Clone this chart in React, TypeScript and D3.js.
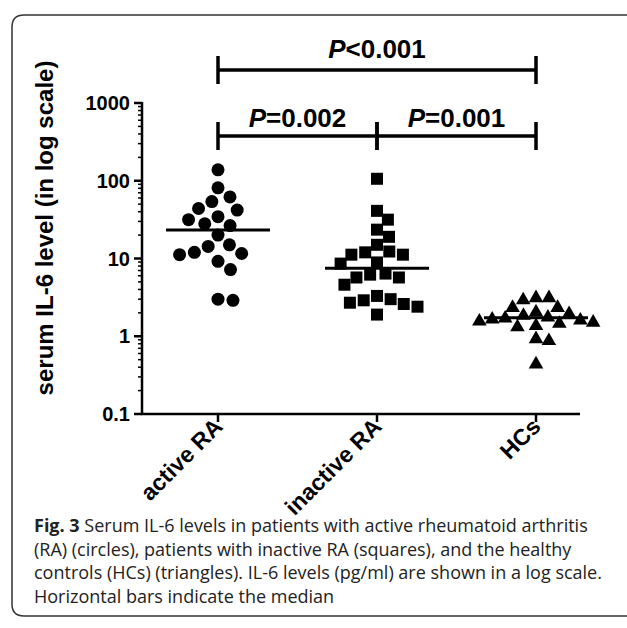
import React, { useRef, useEffect } from "react";
import * as d3 from "d3";

const width = 627;
const height = 628;

// groups on the x axis
const groups = ["active RA", "inactive RA", "HCs"];

// serum IL-6 (pg/ml)
const activeRA = [138, 81, 62, 54, 44, 42, 34.5, 31.6, 28, 26.5, 20, 15, 14.3, 12, 11.6, 11.2, 9.2, 7.2, 3.0, 2.9];
const inactiveRA = [106, 41, 31.6, 23.5, 19, 15, 12.3, 12, 11.2, 11.2, 8.9, 8.6, 6.4, 6.2, 5.7, 5.7, 4.6, 3.3, 3.0, 2.9, 2.7, 2.6, 2.4, 1.9];
const healthyControls = [3.2, 3.0, 3.2, 2.4, 2.4, 2.0, 2.1, 1.9, 1.8, 1.75, 1.7, 1.65, 1.6, 1.55, 1.5, 1.4, 1.35, 0.95, 0.9, 0.45];

const yTicks = [0.1, 1, 10, 100, 1000];
const yTickLabels = ["0.1", "1", "10", "100", "1000"];

// significance brackets
const pairStart = ["active RA", "active RA", "inactive RA"];
const pairEnd = ["HCs", "inactive RA", "HCs"];
const pValues = ["<0.001", "=0.002", "=0.001"];

const yTitle = "serum IL-6 level (in log scale)";
const captionBold = "Fig. 3";
const captionLines = [
  " Serum IL-6 levels in patients with active rheumatoid arthritis",
  "(RA) (circles), patients with inactive RA (squares), and the healthy",
  "controls (HCs) (triangles). IL-6 levels (pg/ml) are shown in a log scale.",
  "Horizontal bars indicate the median",
];

const font = "'Liberation Sans', Arial, sans-serif";

// simple beeswarm: place each point as close to the centre as possible
function swarm(ys: number[], d: number) {
  const order = d3.range(ys.length).sort((a, b) => ys[a] - ys[b]);
  const placed: { x: number; y: number }[] = [];
  const xs = new Array(ys.length).fill(0);
  for (const i of order) {
    const y = ys[i];
    const cands = [0];
    for (const p of placed) {
      const dy = Math.abs(p.y - y);
      if (dy < d) {
        const dx = Math.sqrt(d * d - dy * dy);
        cands.push(p.x + dx, p.x - dx);
      }
    }
    cands.sort((a, b) => Math.abs(a) - Math.abs(b) || b - a);
    const ok = cands.find(c => placed.every(p => (p.x - c) ** 2 + (p.y - y) ** 2 >= d * d - 0.01));
    xs[i] = ok ?? 0;
    placed.push({ x: xs[i], y });
  }
  return xs;
}

export default function App() {
  const svgRef = useRef<SVGSVGElement>(null);

  useEffect(() => {
    const svg = d3.select(svgRef.current);
    svg.selectAll("*").remove();

    const axisX = 142;
    const x = d3.scalePoint().domain(groups).range([138.5, 615.5]).padding(0.5);
    const y = d3.scaleLog().domain([0.1, 1000]).range([414, 103]);

    // frame
    svg
      .append("path")
      .attr("d", "M 640 15 L 24 15 Q 12 15 12 27 L 12 604 Q 12 616 24 616 L 640 616")
      .attr("fill", "none")
      .attr("stroke", "#333")
      .attr("stroke-width", 1.5);

    // y axis
    const minor = y.ticks().filter(t => !yTicks.some(m => Math.abs(m - t) < 1e-9));
    const ax = svg.append("g").attr("stroke", "#000").attr("stroke-width", 2.5);
    ax.append("line").attr("x1", axisX).attr("x2", axisX).attr("y1", y(1000) - 1).attr("y2", y(0.1));
    ax.selectAll(".major")
      .data(yTicks)
      .enter()
      .append("line")
      .attr("x1", axisX - 8)
      .attr("x2", axisX)
      .attr("y1", d => y(d))
      .attr("y2", d => y(d));
    ax.selectAll(".minor")
      .data(minor)
      .enter()
      .append("line")
      .attr("stroke-width", 1.5)
      .attr("x1", axisX - 4)
      .attr("x2", axisX)
      .attr("y1", d => y(d))
      .attr("y2", d => y(d));

    svg
      .selectAll(".ylab")
      .data(yTicks)
      .enter()
      .append("text")
      .attr("x", 130)
      .attr("y", d => y(d) + 7)
      .attr("text-anchor", "end")
      .attr("font-family", font)
      .attr("font-weight", "bold")
      .attr("font-size", 20)
      .text((d, i) => yTickLabels[i]);

    svg
      .append("text")
      .attr("transform", "translate(53,228) rotate(-90)")
      .attr("text-anchor", "middle")
      .attr("font-family", font)
      .attr("font-weight", "bold")
      .attr("font-size", 24)
      .text(yTitle);

    // x axis
    const bx = svg.append("g").attr("stroke", "#000").attr("stroke-width", 2.5);
    bx.append("line").attr("x1", axisX - 1).attr("x2", 580).attr("y1", y(0.1)).attr("y2", y(0.1));
    bx.selectAll(".tick")
      .data(groups)
      .enter()
      .append("line")
      .attr("x1", d => x(d)!)
      .attr("x2", d => x(d)!)
      .attr("y1", y(0.1))
      .attr("y2", y(0.1) + 8);

    svg
      .selectAll(".xlab")
      .data(groups)
      .enter()
      .append("text")
      .attr("transform", d => `translate(${x(d)! + 6},${y(0.1) + 14}) rotate(-45)`)
      .attr("text-anchor", "end")
      .attr("font-family", font)
      .attr("font-weight", "bold")
      .attr("font-size", 23)
      .text(d => d);

    // points
    const series = [activeRA, inactiveRA, healthyControls];
    const spacing = [15, 14, 13];
    series.forEach((vals, gi) => {
      const cx = x(groups[gi])!;
      const ys = vals.map(v => y(v));
      const xs = swarm(ys, spacing[gi]);
      const g = svg.append("g").attr("fill", "#000");
      if (gi === 0) {
        g.selectAll("circle")
          .data(vals)
          .enter()
          .append("circle")
          .attr("cx", (d, i) => cx + xs[i])
          .attr("cy", d => y(d))
          .attr("r", 6.5);
      } else {
        const sym = d3
          .symbol()
          .type(gi === 1 ? d3.symbolSquare : d3.symbolTriangle)
          .size(gi === 1 ? 144 : 92);
        g.selectAll("path")
          .data(vals)
          .enter()
          .append("path")
          .attr("d", sym)
          .attr("transform", (d, i) => `translate(${cx + xs[i]},${y(d) + (gi === 2 ? 1 : 0)})`);
      }
      const med = d3.median(vals)!;
      svg
        .append("line")
        .attr("x1", cx - 52)
        .attr("x2", cx + 52)
        .attr("y1", y(med))
        .attr("y2", y(med))
        .attr("stroke", "#000")
        .attr("stroke-width", 3);
    });

    // brackets
    pValues.forEach((p, i) => {
      const x1 = x(pairStart[i])!;
      const x2 = x(pairEnd[i])!;
      const wide = groups.indexOf(pairEnd[i]) - groups.indexOf(pairStart[i]) > 1;
      const ly = wide ? 70 : 136;
      const br = svg.append("g").attr("stroke", "#000").attr("stroke-width", 3.5);
      br.append("line").attr("x1", x1).attr("x2", x2).attr("y1", ly).attr("y2", ly);
      [x1, x2].forEach(xx =>
        br.append("line").attr("x1", xx).attr("x2", xx).attr("y1", ly - 14).attr("y2", ly + 14)
      );
      const t = svg
        .append("text")
        .attr("x", (x1 + x2) / 2)
        .attr("y", ly - (wide ? 12 : 9))
        .attr("text-anchor", "middle")
        .attr("font-family", font)
        .attr("font-weight", "bold")
        .attr("font-size", 26);
      t.append("tspan").attr("font-style", "italic").text("P");
      t.append("tspan").text(p);
    });

    // caption
    const cap = svg
      .append("text")
      .attr("font-family", "'Open Sans', sans-serif")
      .attr("font-size", 18)
      .attr("fill", "#222");
    captionLines.forEach((line, i) => {
      const ts = cap.append("tspan").attr("x", 34).attr("y", 532 + i * 23.5);
      if (i === 0) ts.append("tspan").attr("font-weight", "bold").text(captionBold);
      ts.append("tspan").text(line);
    });
  }, []);

  return (
    <svg
      ref={svgRef}
      width={width}
      height={height}
      style={{ position: "absolute", left: 0, top: 0, background: "#fff" }}
    />
  );
}
